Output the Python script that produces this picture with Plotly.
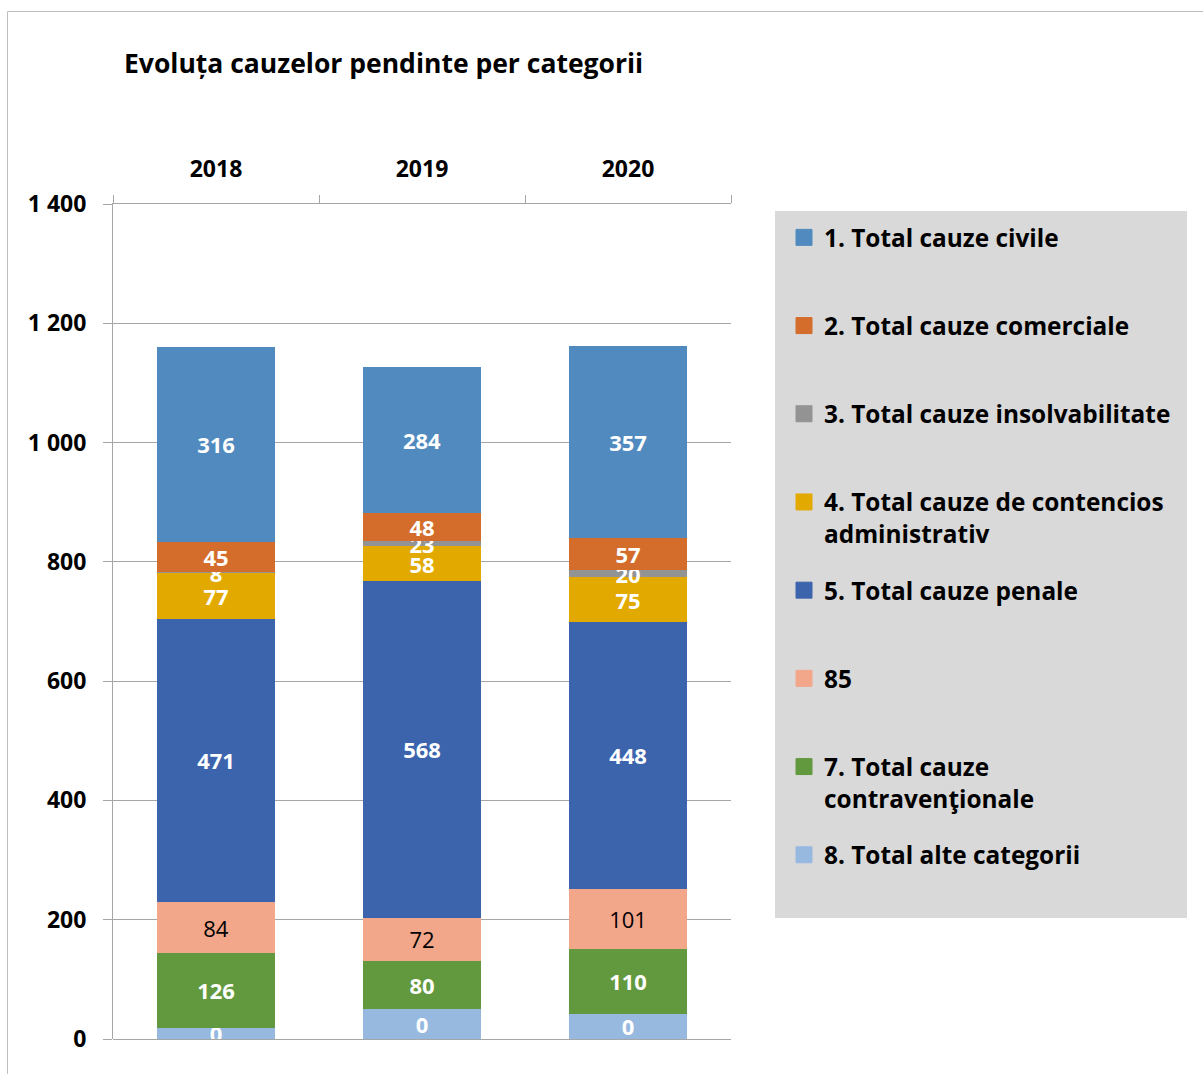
import plotly.graph_objects as go

# ---- data ----
years = ["2018", "2019", "2020"]

series_names = [
    "8. Total alte categorii<br>\u00a0",
    "7. Total cauze<br>contravenţionale",
    "85<br>\u00a0",
    "5. Total cauze penale<br>\u00a0",
    "4. Total cauze de contencios<br>administrativ",
    "3. Total cauze insolvabilitate<br>\u00a0",
    "2. Total cauze comerciale<br>\u00a0",
    "1. Total cauze civile<br>\u00a0",
]
legend_ranks = [8, 7, 6, 5, 4, 3, 2, 1]

# bar heights
alte = [19, 51, 42]
contraventionale = [125, 80, 109]
p85 = [85, 72, 101]
penale = [476, 565, 447]
contencios = [77, 58, 75]
insolvabilitate = [1, 9, 12]
comerciale = [51, 47, 54]
civile = [327, 245, 322]

# data labels as printed on the picture
alte_lbl = ["0", "0", "0"]
contraventionale_lbl = ["126", "80", "110"]
p85_lbl = ["84", "72", "101"]
penale_lbl = ["471", "568", "448"]
contencios_lbl = ["77", "58", "75"]
insolvabilitate_lbl = ["8", "23", "20"]
comerciale_lbl = ["45", "48", "57"]
civile_lbl = ["316", "284", "357"]

y_tickvals = [0, 200, 400, 600, 800, 1000, 1200, 1400]
y_ticktext = ["0", "200", "400", "600", "800", "1 000", "1 200", "1 400"]

values = [alte, contraventionale, p85, penale, contencios, insolvabilitate, comerciale, civile]
labels = [alte_lbl, contraventionale_lbl, p85_lbl, penale_lbl, contencios_lbl,
          insolvabilitate_lbl, comerciale_lbl, civile_lbl]
colors = ["#97B9E0", "#63993E", "#F2A78A", "#3C64AD", "#E2AA00", "#939393", "#D46D2B", "#508ABE"]
text_colors = ["white", "white", "black", "white", "white", "white", "white", "white"]
text_weights = ["bold", "bold", "normal", "bold", "bold", "bold", "bold", "bold"]

FONT = "Open Sans"
GRAY = "#A6A6A6"
LEG_SIZE = 24.4

fig = go.Figure()
for i in range(len(values)):
    fig.add_trace(go.Bar(
        x=years, y=values[i], name=series_names[i],
        text=labels[i], texttemplate="%{text}",
        textposition="inside", insidetextanchor="middle", textangle=0,
        constraintext="none",
        textfont=dict(family=FONT, size=22, color=text_colors[i], weight=text_weights[i]),
        marker=dict(color=colors[i], line=dict(width=0)),
        showlegend=False,
        hoverinfo="skip",
    ))

# legend entries (square swatches like the reference legend)
for i in range(len(values)):
    fig.add_trace(go.Scatter(
        x=[None], y=[None], mode="markers", name=series_names[i],
        marker=dict(symbol="square", size=16, color=colors[i],
                    line=dict(width=1, color=colors[i])),
        legendgroup="g%d" % i, legendrank=legend_ranks[i],
        showlegend=True, hoverinfo="skip",
    ))

W, H = 1203, 1074
ml, mr, mt, mb = 113, 472, 204, 35
pw, ph = W - ml - mr, H - mt - mb

def px_x(px):
    return (px - ml) / pw

def px_y(py):
    return (H - mb - py) / ph

item_h = 2 * LEG_SIZE * 1.3 + 3

fig.update_layout(
    width=W, height=H,
    margin=dict(l=ml, r=mr, t=mt, b=mb, pad=0),
    barmode="stack", bargap=0.43,
    paper_bgcolor="white", plot_bgcolor="white",
    font=dict(family=FONT, color="black"),
    uniformtext=dict(minsize=22, mode="show"),
    title=dict(
        text="Evoluța cauzelor pendinte per categorii",
        font=dict(family=FONT, size=26.5, color="black", weight="bold"),
        x=124 / W, xanchor="left", xref="container",
        y=1 - 64 / H, yanchor="middle", yref="container",
    ),
    xaxis=dict(
        type="category", side="top",
        tickson="boundaries", ticks="outside", ticklen=8, tickwidth=1, tickcolor=GRAY,
        showline=True, linecolor=GRAY, linewidth=1,
        showgrid=False, zeroline=False,
        tickfont=dict(family=FONT, size=23, color="black", weight="bold"),
        ticklabelstandoff=17,
    ),
    yaxis=dict(
        range=[0, 1400], tickvals=y_tickvals, ticktext=y_ticktext,
        ticks="outside", ticklen=9, tickwidth=1, tickcolor=GRAY,
        showline=True, linecolor=GRAY, linewidth=1,
        showgrid=True, gridcolor=GRAY, gridwidth=1,
        zeroline=True, zerolinecolor=GRAY, zerolinewidth=1,
        tickfont=dict(family=FONT, size=23, color="black", weight="bold"),
        ticklabelstandoff=12,
    ),
    legend=dict(
        x=px_x(784), xanchor="left", xref="paper",
        y=px_y(215), yanchor="top", yref="paper",
        bgcolor="rgba(0,0,0,0)", borderwidth=0,
        traceorder="grouped", tracegroupgap=88.2 - item_h,
        valign="top",
        font=dict(family=FONT, size=LEG_SIZE, color="black", weight="bold"),
    ),
    shapes=[
        # grey legend panel
        dict(type="rect", xref="paper", yref="paper", layer="below",
             x0=px_x(775), x1=px_x(1187), y0=px_y(918), y1=px_y(211),
             fillcolor="#D9D9D9", line=dict(width=0)),
        # chart outer border
        dict(type="rect", xref="paper", yref="paper", layer="below",
             x0=px_x(7.5), x1=px_x(1300), y0=px_y(1200), y1=px_y(11.5),
             fillcolor="rgba(0,0,0,0)", line=dict(color="#BFBFBF", width=1)),
    ],
)

fig.write_html("out.html", config={"displayModeBar": False},
               post_script="document.body.style.margin='0';")
